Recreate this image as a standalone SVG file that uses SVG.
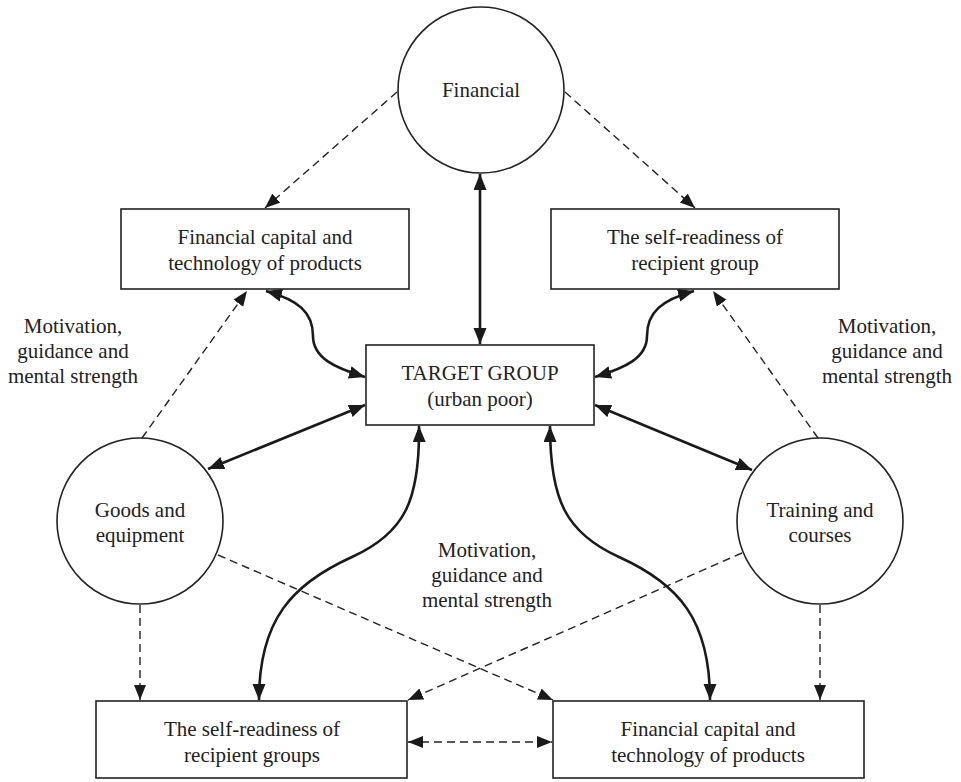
<svg xmlns="http://www.w3.org/2000/svg" width="961" height="782" viewBox="0 0 961 782" font-family="Liberation Serif, Tinos, DejaVu Serif, serif">
<style>
  .shape { fill: #ffffff; stroke: #222222; stroke-width: 1.6; }
  .txt { font-family: 'Liberation Serif', Tinos, 'DejaVu Serif', serif; font-size: 21px; fill: #222222; text-anchor: middle; }
  .solid { fill: none; stroke: #1a1a1a; stroke-width: 2.6; }
  .dash { fill: none; stroke: #222222; stroke-width: 1.4; stroke-dasharray: 8 5; }
  .solid.end { marker-end: url(#arrow); }
  .solid.both { marker-start: url(#arrow); marker-end: url(#arrow); }
  .dash.end { marker-end: url(#arrowD); }
  .dash.both { marker-start: url(#arrowD); marker-end: url(#arrowD); }
</style>
<defs>
  <marker id="arrow" markerUnits="userSpaceOnUse" markerWidth="17" markerHeight="14" refX="16" refY="6.5" orient="auto-start-reverse">
    <path d="M0,0 L16,6.5 L0,13 z" fill="#1a1a1a"/>
  </marker>
  <marker id="arrowD" markerUnits="userSpaceOnUse" markerWidth="16" markerHeight="13" refX="15" refY="6" orient="auto-start-reverse">
    <path d="M0,0 L15,6 L0,12 z" fill="#1a1a1a"/>
  </marker>
</defs>
<rect width="961" height="782" fill="#ffffff"/>

<g id="connectors">
  <line class="dash end" x1="397" y1="92" x2="265" y2="208"/>
  <line class="dash end" x1="565" y1="92" x2="695" y2="208"/>
  <line class="solid both" x1="480" y1="174" x2="480" y2="344"/>
  <path class="solid both" d="M 266 291 C 298 300, 313 312, 313 336 C 313 358, 335 368, 365 377"/>
  <path class="solid both" d="M 694 291 C 662 300, 647 312, 647 336 C 647 358, 625 368, 595 377"/>
  <line class="solid both" x1="365" y1="405" x2="208" y2="469"/>
  <line class="solid both" x1="595" y1="405" x2="752" y2="470"/>
  <line class="dash end" x1="142" y1="438" x2="247" y2="291"/>
  <line class="dash end" x1="818" y1="438" x2="713" y2="291"/>
  <path class="solid both" d="M 419 426 C 420 500, 405 533, 352 557 C 292 584, 259 620, 259 700"/>
  <path class="solid both" d="M 550 426 C 550 500, 566 533, 619 557 C 679 584, 710 620, 710 700"/>
  <line class="dash end" x1="218" y1="555" x2="553" y2="700"/>
  <line class="dash end" x1="742" y1="553" x2="408" y2="700"/>
  <line class="dash end" x1="140" y1="605" x2="140" y2="700"/>
  <line class="dash end" x1="820" y1="605" x2="820" y2="700"/>
  <line class="dash both" x1="408" y1="742" x2="552" y2="742"/>
</g>

<g id="financial">
  <circle class="shape" cx="481" cy="90" r="83"/>
  <text class="txt" x="481" y="97">Financial</text>
</g>

<g id="box-top-left">
  <rect class="shape" x="121" y="209" width="288" height="80"/>
  <text class="txt" x="265" y="244">Financial capital and</text>
  <text class="txt" x="265" y="270">technology of products</text>
</g>

<g id="box-top-right">
  <rect class="shape" x="551" y="209" width="288" height="80"/>
  <text class="txt" x="695" y="244">The self-readiness of</text>
  <text class="txt" x="695" y="270">recipient group</text>
</g>

<g id="target">
  <rect class="shape" x="366" y="345" width="228" height="80"/>
  <text class="txt" x="480" y="380">TARGET GROUP</text>
  <text class="txt" x="480" y="406">(urban poor)</text>
</g>

<g id="goods">
  <circle class="shape" cx="140" cy="521" r="83"/>
  <text class="txt" x="140" y="517">Goods and</text>
  <text class="txt" x="140" y="542">equipment</text>
</g>

<g id="training">
  <circle class="shape" cx="820" cy="521" r="83"/>
  <text class="txt" x="820" y="517">Training and</text>
  <text class="txt" x="820" y="542">courses</text>
</g>

<g id="box-bottom-left">
  <rect class="shape" x="96" y="701" width="311" height="77"/>
  <text class="txt" x="252" y="736">The self-readiness of</text>
  <text class="txt" x="252" y="762">recipient groups</text>
</g>

<g id="box-bottom-right">
  <rect class="shape" x="553" y="701" width="311" height="77"/>
  <text class="txt" x="708" y="736">Financial capital and</text>
  <text class="txt" x="708" y="762">technology of products</text>
</g>

<g id="label-left">
  <text class="txt" x="73" y="333">Motivation,</text>
  <text class="txt" x="73" y="358">guidance and</text>
  <text class="txt" x="73" y="383">mental strength</text>
</g>

<g id="label-right">
  <text class="txt" x="887" y="333">Motivation,</text>
  <text class="txt" x="887" y="358">guidance and</text>
  <text class="txt" x="887" y="383">mental strength</text>
</g>

<g id="label-center">
  <text class="txt" x="487" y="557">Motivation,</text>
  <text class="txt" x="487" y="582">guidance and</text>
  <text class="txt" x="487" y="607">mental strength</text>
</g>
</svg>
